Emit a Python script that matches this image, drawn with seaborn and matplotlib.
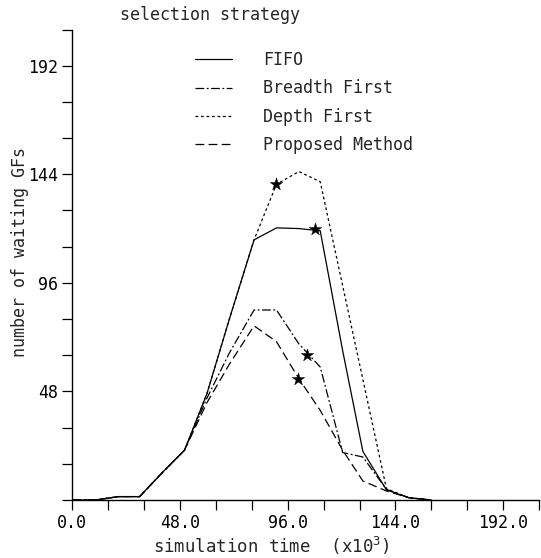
import numpy as np
import pandas as pd
import matplotlib
matplotlib.use("Agg")
import matplotlib.pyplot as plt
import seaborn as sns

# simulation time (x10^3) at which each curve has a vertex
times = [0, 10.5, 20.5, 30, 40, 50, 60, 70, 81, 91, 101, 110.5, 120.5, 129.5, 140, 150, 160]

# number of waiting GFs per selection strategy
fifo = [0, 0, 1.5, 1.5, 12, 22, 47, 80, 115, 120.3, 120, 119, 66, 21.5, 4.5, 1, 0]
breadth_first = [0, 0, 1.5, 1.5, 12, 22, 45, 65, 84, 84, 69, 58.8, 21, 19, 4.7, 1, 0]
depth_first = [0, 0, 1.5, 1.5, 12, 22, 47, 80, 115, 139.6, 145.2, 140.7, 94.7, 53.3, 5, 1, 0]
proposed = [0, 0, 1.5, 1.5, 12, 22, 43, 60, 77, 70, 53.6, 39.6, 22, 8.4, 4, 1, 0]

strategies = ["FIFO", "Breadth First", "Depth First", "Proposed Method"]

# star markers on each curve
star_x = [108, 104.6, 91, 100.6]
star_y = [119.8, 64, 139.6, 53.6]

x_ticks = list(range(0, 209, 16))
x_labels = ["0.0", "48.0", "96.0", "144.0", "192.0"]
y_labels = ["48", "96", "144", "192"]

series = {"FIFO": fifo, "Breadth First": breadth_first,
          "Depth First": depth_first, "Proposed Method": proposed}
df = pd.concat([pd.DataFrame({"time": times, "waiting": v, "strategy": k})
                for k, v in series.items()], ignore_index=True)
stars = pd.DataFrame({"time": star_x, "waiting": star_y})

sns.set_style("white")
plt.rcParams["font.family"] = ["DejaVu Sans Mono"]
plt.rcParams["mathtext.fontset"] = "custom"
plt.rcParams["mathtext.rm"] = "DejaVu Sans Mono"

fig = plt.figure(figsize=(5.41, 5.58), dpi=100)
ax = fig.add_axes([72.3 / 541, 58 / 558, 466.7 / 541, 470.5 / 558])

dashes = {"FIFO": "", "Breadth First": (7, 2, 1.5, 2),
          "Depth First": (2.2, 2.2), "Proposed Method": (7, 3.5)}
sns.lineplot(data=df, x="time", y="waiting", style="strategy", style_order=strategies,
             dashes=dashes, color="black", linewidth=0.9, ax=ax, sort=False)
sns.scatterplot(data=stars, x="time", y="waiting", marker="*", s=90, color="black",
                edgecolor="black", linewidth=0.3, ax=ax, legend=False, zorder=5)

ax.set_xlim(0, 208)
ax.set_ylim(0, 208)
ax.set_xticks(x_ticks)
ax.set_xticklabels([x_labels[i // 3] if i % 3 == 0 else "" for i in range(len(x_ticks))])
ax.set_yticks(x_ticks)
ax.set_yticklabels([y_labels[i // 3 - 1] if i % 3 == 0 and i > 0 else "" for i in range(len(x_ticks))])
ax.tick_params(bottom=True, left=True, direction="out", length=7, width=0.9,
               colors="black", labelsize=12, pad=3)
ax.set_xlabel("")
ax.set_ylabel("")
for side in ["top", "right"]:
    ax.spines[side].set_visible(False)
for side in ["left", "bottom"]:
    ax.spines[side].set_color("black")
    ax.spines[side].set_linewidth(1.0)

handles, labels = ax.get_legend_handles_labels()
ax.legend(handles, labels, loc="upper left", bbox_to_anchor=(180 / 541, 1 - 36 / 558),
          bbox_transform=fig.transFigure, frameon=False, fontsize=12,
          handlelength=2.2, handletextpad=1.9, labelspacing=0.62)

fig.text(120 / 541, 1 - 15 / 558, "selection strategy", fontsize=12, va="center", ha="left")
fig.text(20 / 541, 1 - 252 / 558, "number of waiting GFs", fontsize=12, rotation=90,
         va="center", ha="center")
fig.text(271 / 541, 1 - 546 / 558, "simulation time  (x10$^{3}$)", fontsize=12.5,
         va="center", ha="center")

fig.savefig("out.png", dpi=100)
